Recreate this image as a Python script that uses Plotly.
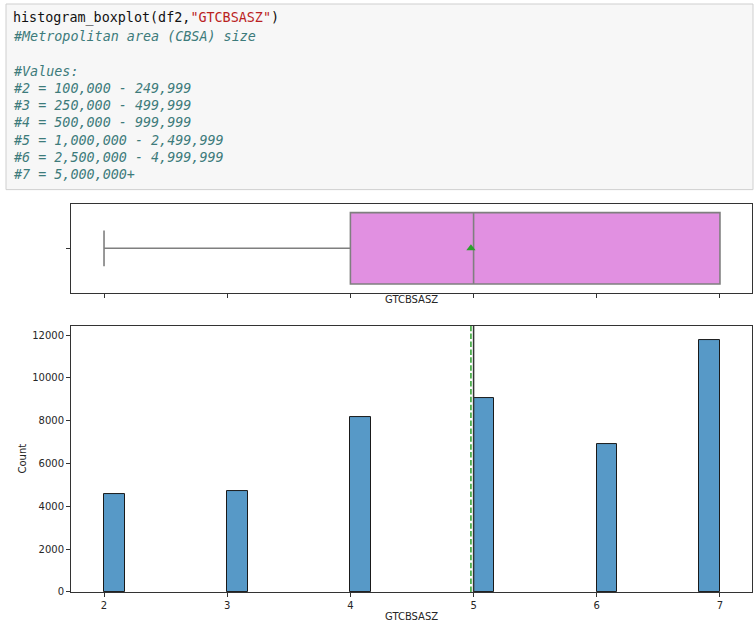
import plotly.graph_objects as go

W, H = 755, 621
# vertical extent used when converting pixel offsets to paper fractions
H_PAPER = 614

# Notebook cell source shown above the chart
code_lines = [
    ('histogram_boxplot(df2,', '"GTCBSASZ"', ')'),
    '#Metropolitan area (CBSA) size',
    '',
    '#Values:',
    '#2 = 100,000 - 249,999',
    '#3 = 250,000 - 499,999',
    '#4 = 500,000 - 999,999',
    '#5 = 1,000,000 - 2,499,999',
    '#6 = 2,500,000 - 4,999,999',
    '#7 = 5,000,000+',
]

# GTCBSASZ category counts (histogram, 30 bins between 2 and 7)
categories = [2, 3, 4, 5, 6, 7]
counts = [4590, 4735, 8157, 9048, 6891, 11766]
n_bins = 30

# Box summary statistics
q1, median, q3 = 4, 5, 7
low_whisker, high_whisker = 2, 7

mean = sum(c * n for c, n in zip(categories, counts)) / sum(counts)
bin_w = (max(categories) - min(categories)) / n_bins
# each value sits at the left edge of its bin, except the last value which closes the final bin
offsets = [0.0 if c < max(categories) else -bin_w for c in categories]


def px(x):
    return x / W


def py(y):
    return 1 - y / H_PAPER


fig = go.Figure()

# Box plot (top panel)
fig.add_trace(go.Box(
    y=[0], q1=[q1], median=[median], q3=[q3],
    lowerfence=[low_whisker], upperfence=[high_whisker],
    orientation='h', width=0.8, whiskerwidth=0.5,
    fillcolor='#e190e1', line=dict(color='#7f7f7f', width=1.6),
    boxpoints=False, xaxis='x', yaxis='y', showlegend=False, hoverinfo='skip',
))
fig.add_trace(go.Scatter(
    x=[mean], y=[0], mode='markers',
    marker=dict(symbol='triangle-up', color='#2ca02c', size=8),
    xaxis='x', yaxis='y', showlegend=False,
))

# Histogram (bottom panel)
fig.add_trace(go.Bar(
    x=categories, y=counts, width=bin_w, offset=offsets,
    marker=dict(color='#5799c7', line=dict(color='#1a1a1a', width=1)),
    xaxis='x2', yaxis='y2', showlegend=False,
))

xr = [1.732, 7.26]
axis_common = dict(showline=True, linecolor='#333333', linewidth=1, mirror=True,
                   ticks='outside', ticklen=4, tickcolor='#333333', showgrid=False,
                   zeroline=False, tickfont=dict(family='DejaVu Sans', size=10, color='#262626'))

fig.update_layout(
    width=W, height=H,
    margin=dict(l=0, r=0, t=0, b=0),
    paper_bgcolor='white', plot_bgcolor='white',
    xaxis=dict(domain=[px(71), px(752)], range=xr, anchor='y',
               tickvals=categories, showticklabels=False, **axis_common),
    yaxis=dict(domain=[py(292), py(203)], range=[-0.5, 0.5], anchor='x',
               tickvals=[0], showticklabels=False, **axis_common),
    xaxis2=dict(domain=[px(71), px(752)], range=xr, anchor='y2',
                tickvals=categories, **axis_common),
    yaxis2=dict(domain=[py(590), py(325)], range=[0, 12422], anchor='x2',
                tickvals=list(range(0, 12001, 2000)), tickformat='d', **axis_common),
    bargap=0,
)

# Mean and median reference lines on the histogram
fig.add_shape(type='line', xref='x2', yref='y2 domain', x0=mean, x1=mean, y0=0, y1=1,
              line=dict(color='#2ca02c', width=1.5, dash='5.5px,2.4px'))
fig.add_shape(type='line', xref='x2', yref='y2 domain', x0=median, x1=median, y0=0, y1=1,
              line=dict(color='#333333', width=1.5))

# Code cell background
fig.add_shape(type='rect', xref='paper', yref='paper',
              x0=px(6), x1=px(753), y0=py(189), y1=py(4),
              fillcolor='#f7f7f7', line=dict(color='#cfcfcf', width=1), layer='below')

line_y = [18, 36, 53, 71, 88, 105, 122, 140, 157, 174]
mono = dict(family='DejaVu Sans Mono', size=13.4)
for line, y in zip(code_lines, line_y):
    if not line:
        continue
    if isinstance(line, tuple):
        text = (f'<span style="color:#111111">{line[0]}</span>'
                f'<span style="color:#ba2121">{line[1]}</span>'
                f'<span style="color:#111111">{line[2]}</span>')
    else:
        text = f'<i>{line}</i>'
    fig.add_annotation(text=text, xref='paper', yref='paper', x=px(11), y=py(y),
                       xanchor='left', yanchor='middle', showarrow=False,
                       font=dict(color='#3d7b7b', **mono))

# Axis titles
label_font = dict(family='DejaVu Sans', size=10, color='#262626')
fig.add_annotation(text='GTCBSASZ', xref='paper', yref='paper', x=px(411.5), y=py(299),
                   xanchor='center', yanchor='middle', showarrow=False, font=label_font)
fig.add_annotation(text='GTCBSASZ', xref='paper', yref='paper', x=px(411.5), y=py(614),
                   xanchor='center', yanchor='middle', showarrow=False, font=label_font)
fig.add_annotation(text='Count', xref='paper', yref='paper', x=px(22), y=py(457),
                   xanchor='center', yanchor='middle', showarrow=False, textangle=-90,
                   font=label_font)

fig.write_html('out.html')
